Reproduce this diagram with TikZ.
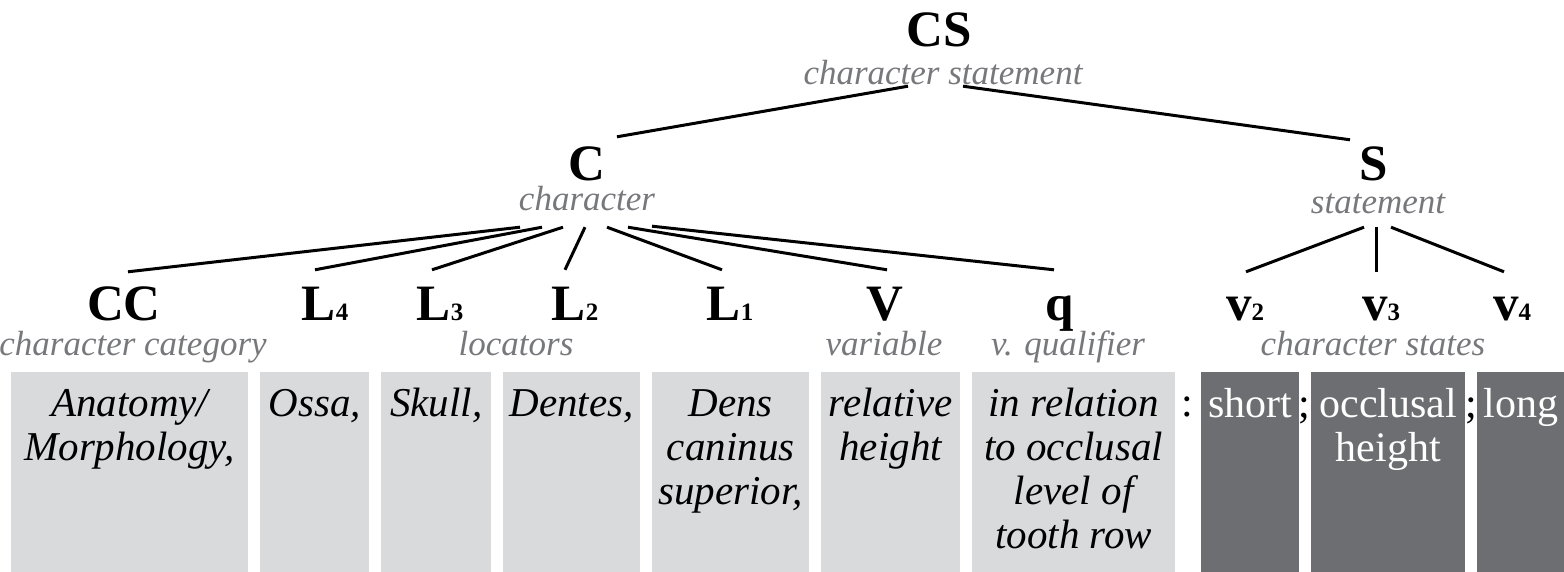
\documentclass[tikz,border=0pt]{standalone}
\usepackage{fontspec}
\setmainfont{Liberation Serif}
\definecolor{boxlight}{HTML}{D9DADC}
\definecolor{boxdark}{HTML}{6D6E71}
\definecolor{rolegray}{HTML}{77787B}
% centred stack of lines whose baseline is that of the first line
\newcommand{\stackc}[1]{\begin{tabular}[t]{@{}c@{}}#1\end{tabular}}
% small index digit sitting on the baseline
\newcommand{\idx}[1]{{\fontsize{25}{25}\selectfont #1}}
\begin{document}
\begin{tikzpicture}[x=1pt,y=-1pt,
  lab/.style={font=\fontsize{51}{51}\selectfont\bfseries, inner sep=0pt,
    anchor=base, text height=34pt, text depth=0pt},
  role/.style={font=\fontsize{35}{35}\selectfont\itshape, text=rolegray,
    inner sep=0pt, anchor=base, text depth=0pt},
  edge/.style={line width=3pt},
  lbox/.style={fill=boxlight, draw=none, inner sep=0pt, anchor=north west,
    minimum height=200pt},
  dbox/.style={fill=boxdark, draw=none, inner sep=0pt, anchor=north west,
    minimum height=200pt},
  btext/.style={font=\fontsize{41}{44}\selectfont\itshape, inner sep=0pt,
    anchor=base},
  dtext/.style={font=\fontsize{42}{44}\selectfont, text=white, inner sep=0pt,
    anchor=base},
  punct/.style={font=\fontsize{42}{44}\selectfont, inner sep=0pt, anchor=base},
]
\useasboundingbox (0,0) rectangle (1564,572);

% ---- tree labels ----
\node[lab]  (CS)  at (939,47)  {CS};
\node[role] (CSt) at (943,85)  {character statement};
\node[lab]  (C)   at (587,181) {C};
\node[role] (Ct)  at (587,211) {character};
\node[lab]  (S)   at (1374,181) {S};
\node[role] (St)  at (1378,214) {statement};

\node[lab] (CC) at (124,320)  {CC};
\node[lab] (L4) at (325,320)  {L\idx{4}};
\node[lab] (L3) at (440,320)  {L\idx{3}};
\node[lab] (L2) at (575,320)  {L\idx{2}};
\node[lab] (L1) at (730,320)  {L\idx{1}};
\node[lab] (V)  at (885,320)  {V};
\node[lab] (q)  at (1060,320) {q};
\node[lab] (v2) at (1245,320) {v\idx{2}};
\node[lab] (v3) at (1381,320) {v\idx{3}};
\node[lab] (v4) at (1512,320) {v\idx{4}};

\node[role] (CCt)  at (133,355)  {character category};
\node[role] (Loct) at (516,355)  {locators};
\node[role] (Vt)   at (884,355)  {variable};
\node[role] (qt)   at (1068,355) {v. qualifier};
\node[role] (vst)  at (1373,355) {character states};

% ---- connectors ----
\draw[edge] ([xshift=-35pt,yshift=-1pt]CSt.south) -- ([xshift=30pt,yshift=10pt]C.north);
\draw[edge] ([xshift=20pt,yshift=-1pt]CSt.south) -- ([xshift=-24pt,yshift=7pt]S.north);

\draw[edge] ([xshift=-67pt,yshift=-16pt]Ct.south) -- ([xshift=4pt,yshift=14pt]CC.north);
\draw[edge] ([xshift=-45pt,yshift=-16pt]Ct.south) -- ([xshift=-10pt,yshift=16pt]L4.north);
\draw[edge] ([xshift=-24pt,yshift=-16pt]Ct.south) -- ([xshift=-8pt,yshift=16pt]L3.north);
\draw[edge] ([xshift=-2pt,yshift=-16pt]Ct.south)  -- ([xshift=-10pt,yshift=16pt]L2.north);
\draw[edge] ([xshift=20pt,yshift=-16pt]Ct.south)  -- ([xshift=-8pt,yshift=16pt]L1.north);
\draw[edge] ([xshift=41pt,yshift=-16pt]Ct.south)  -- ([xshift=2pt,yshift=16pt]V.north);
\draw[edge] ([xshift=65pt,yshift=-15pt]Ct.south)  -- ([xshift=-6pt,yshift=16pt]q.north);

\draw[edge] ([xshift=-14pt,yshift=-13pt]St.south) -- ([xshift=1pt,yshift=14pt]v2.north);
\draw[edge] ([xshift=-2pt,yshift=-13pt]St.south)  -- ([xshift=-5pt,yshift=14pt]v3.north);
\draw[edge] ([xshift=13pt,yshift=-13pt]St.south)  -- ([xshift=-8pt,yshift=14pt]v4.north);

% ---- value boxes ----
\node[lbox, minimum width=237pt] (b1) at (11,372)  {};
\node[lbox, minimum width=109pt] (b2) at (260,372) {};
\node[lbox, minimum width=110pt] (b3) at (381,372) {};
\node[lbox, minimum width=137pt] (b4) at (503,372) {};
\node[lbox, minimum width=157pt] (b5) at (652,372) {};
\node[lbox, minimum width=139pt] (b6) at (821,372) {};
\node[lbox, minimum width=203pt] (b7) at (972,372) {};
\node[dbox, minimum width=98pt]  (d1) at (1201,372) {};
\node[dbox, minimum width=154pt] (d2) at (1311,372) {};
\node[dbox, minimum width=87pt]  (d3) at (1477,372) {};

\node[btext] (t1) at ([yshift=-44pt]b1.north) {\stackc{Anatomy/\\Morphology,}};
\node[btext] (t2) at ([yshift=-44pt]b2.north) {Ossa,};
\node[btext] (t3) at ([yshift=-44pt]b3.north) {Skull,};
\node[btext] (t4) at ([yshift=-44pt]b4.north) {Dentes,};
\node[btext] (t5) at ([yshift=-44pt]b5.north) {\stackc{Dens\\caninus\\superior,}};
\node[btext] (t6) at ([yshift=-44pt]b6.north) {\stackc{relative\\height}};
\node[btext] (t7) at ([yshift=-44pt]b7.north) {\stackc{in relation\\to occlusal\\level of\\tooth row}};

\node[dtext] (s1) at ([yshift=-45pt]d1.north) {short};
\node[dtext] (s2) at ([yshift=-45pt]d2.north) {\stackc{occlusal\\height}};
\node[dtext] (s3) at ([yshift=-45pt]d3.north) {long};

\node[punct] (colon) at (1187,416) {:};
\node[punct] (semi1) at (1304,417) {;};
\node[punct] (semi2) at (1471,417) {;};
\end{tikzpicture}
\end{document}
